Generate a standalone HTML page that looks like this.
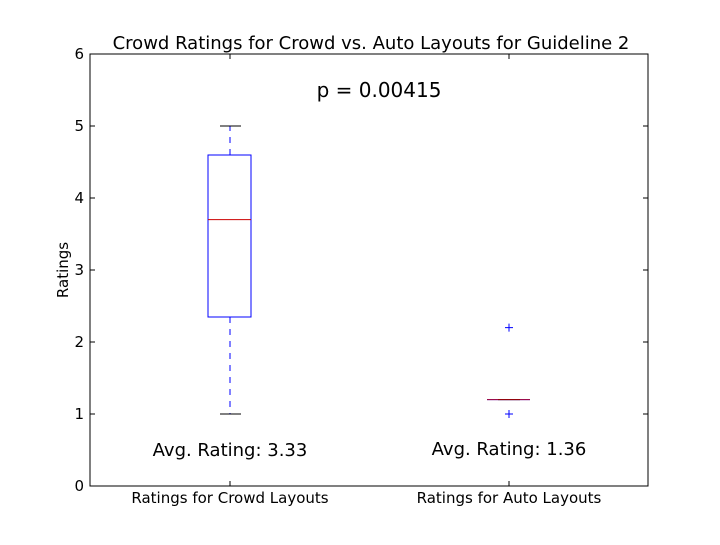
<!DOCTYPE html>
<html><head><style>body{margin:0;background:#fff}</style></head><body>
<svg width="720" height="540" xmlns="http://www.w3.org/2000/svg" font-family="DejaVu Sans, sans-serif">
<rect width="720" height="540" fill="#fff"/>
<rect x="90" y="54" width="558" height="432" fill="none" stroke="#000" stroke-width="1"/>
<g stroke="#000" stroke-width="1">
<line x1="90" y1="414" x2="95" y2="414"/><line x1="648" y1="414" x2="643" y2="414"/>
<line x1="90" y1="342" x2="95" y2="342"/><line x1="648" y1="342" x2="643" y2="342"/>
<line x1="90" y1="270" x2="95" y2="270"/><line x1="648" y1="270" x2="643" y2="270"/>
<line x1="90" y1="198" x2="95" y2="198"/><line x1="648" y1="198" x2="643" y2="198"/>
<line x1="90" y1="126" x2="95" y2="126"/><line x1="648" y1="126" x2="643" y2="126"/>
<line x1="230" y1="486" x2="230" y2="481"/><line x1="230" y1="54" x2="230" y2="59"/>
<line x1="509" y1="486" x2="509" y2="481"/><line x1="509" y1="54" x2="509" y2="59"/>
</g>
<g font-size="15" text-anchor="end">
<text x="84" y="491">0</text><text x="84" y="419">1</text><text x="84" y="347">2</text>
<text x="84" y="275">3</text><text x="84" y="203">4</text><text x="84" y="131">5</text><text x="84" y="59">6</text>
</g>
<g font-size="15" text-anchor="middle">
<text x="230" y="503">Ratings for Crowd Layouts</text>
<text x="509" y="503">Ratings for Auto Layouts</text>
<text x="371" y="49" font-size="18">Crowd Ratings for Crowd vs. Auto Layouts for Guideline 2</text>
<text x="379" y="97" font-size="20">p = 0.00415</text>
<text x="230" y="456" font-size="18">Avg. Rating: 3.33</text>
<text x="509" y="455" font-size="18">Avg. Rating: 1.36</text>
<text transform="translate(68,270) rotate(-90)">Ratings</text>
</g>
<g stroke="#00f" fill="none">
<rect x="208" y="155" width="43" height="162"/>
<line x1="230" y1="155" x2="230" y2="126" stroke-dasharray="6,6"/>
<line x1="230" y1="317" x2="230" y2="414" stroke-dasharray="6,6"/>
<line x1="487" y1="399.6" x2="530" y2="399.6"/>
<path d="M505 327.6h8M509 323.6v8M505 414h8M509 410v8"/>
</g>
<g stroke="#000">
<line x1="220" y1="126" x2="241" y2="126"/><line x1="220" y1="414" x2="241" y2="414"/>
<line x1="498" y1="399.6" x2="520" y2="399.6"/>
</g>
<g stroke="#c00">
<line x1="208" y1="219.6" x2="251" y2="219.6"/>
<line x1="487" y1="399.6" x2="530" y2="399.6" stroke-opacity="0.8"/>
</g>
</svg>
</body></html>
